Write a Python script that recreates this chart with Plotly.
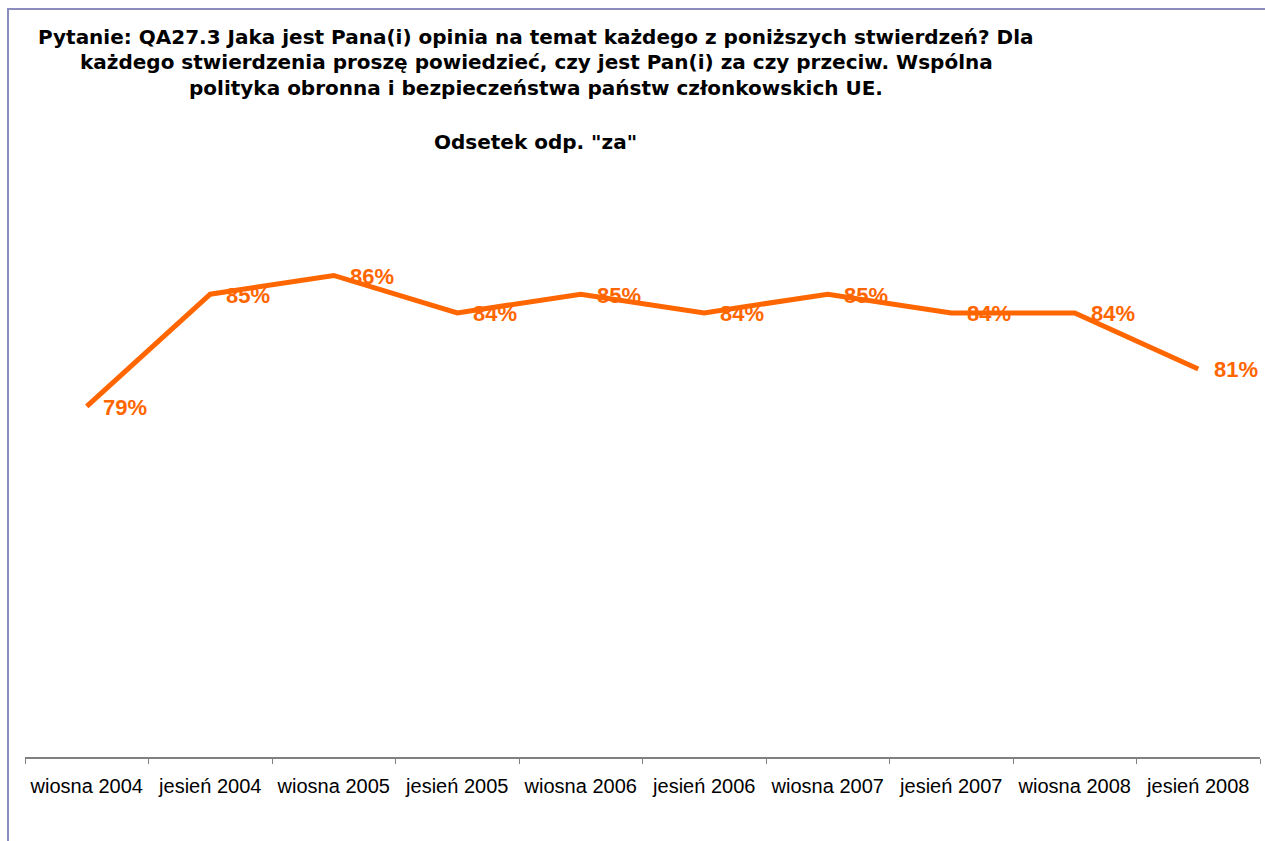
import plotly.graph_objects as go

# Survey waves and share of "za" answers (%)
waves = ["wiosna 2004", "jesień 2004", "wiosna 2005", "jesień 2005", "wiosna 2006",
         "jesień 2006", "wiosna 2007", "jesień 2007", "wiosna 2008", "jesień 2008"]
share_for = [79, 85, 86, 84, 85, 84, 85, 84, 84, 81]

title_lines = [
    "Pytanie: QA27.3 Jaka jest Pana(i) opinia na temat każdego z poniższych stwierdzeń? Dla",
    "każdego stwierdzenia proszę powiedzieć, czy jest Pan(i) za czy przeciw. Wspólna",
    "polityka obronna i bezpieczeństwa państw członkowskich UE.",
]
subtitle = 'Odsetek odp. "za"'

ORANGE = "#FF6600"
W, H = 1265, 841
ML, MR, MT, MB = 25, 5, 9, 84

fig = go.Figure()
fig.add_trace(go.Scatter(
    x=waves, y=share_for, mode="lines",
    line=dict(color=ORANGE, width=5),
    hoverinfo="skip", showlegend=False,
))

# value labels to the right of each point
for w, v in zip(waves, share_for):
    fig.add_annotation(
        x=w, y=v, text=f"{v}%", showarrow=False,
        xanchor="left", yanchor="middle", xshift=14, yshift=-1,
        font=dict(family="Liberation Sans, Arial", size=22, color=ORANGE, weight="bold"),
    )

# title block (paper coordinates from pixel positions)
def py(pix):
    return 1 - (pix - MT) / (H - MT - MB)

def px(pix):
    return (pix - ML) / (W - ML - MR)

for i, (line, ypix) in enumerate(zip(title_lines, [37, 62, 88])):
    fig.add_annotation(
        xref="paper", yref="paper", x=px(536), y=py(ypix),
        text=f"<b>{line}</b>", showarrow=False, xanchor="center", yanchor="middle",
        font=dict(family="DejaVu Sans", size=20, color="#000000"),
    )
fig.add_annotation(
    xref="paper", yref="paper", x=px(535), y=py(142),
    text=f"<b>{subtitle}</b>", showarrow=False, xanchor="center", yanchor="middle",
    font=dict(family="DejaVu Sans", size=20, color="#000000"),
)

# chart frame
fig.add_shape(
    type="rect", xref="paper", yref="paper",
    x0=px(8), x1=px(1300), y0=py(900), y1=py(9),
    line=dict(color="#8C8CC0", width=2), fillcolor="rgba(0,0,0,0)", layer="below",
)

fig.update_layout(
    width=W, height=H,
    margin=dict(l=ML, r=MR, t=MT, b=MB),
    paper_bgcolor="white", plot_bgcolor="white",
    xaxis=dict(
        type="category", range=[-0.5, 9.5],
        showline=True, linecolor="#808080", linewidth=2,
        ticks="outside", tickson="boundaries", ticklen=5, tickcolor="#808080", tickwidth=1,
        ticklabelstandoff=10,
        showgrid=False, zeroline=False,
        tickfont=dict(family="Liberation Sans, Arial", size=20, color="#000000"),
    ),
    yaxis=dict(range=[60.25, 100.25], visible=False, showgrid=False, zeroline=False),
)

fig.write_html("out.html")
